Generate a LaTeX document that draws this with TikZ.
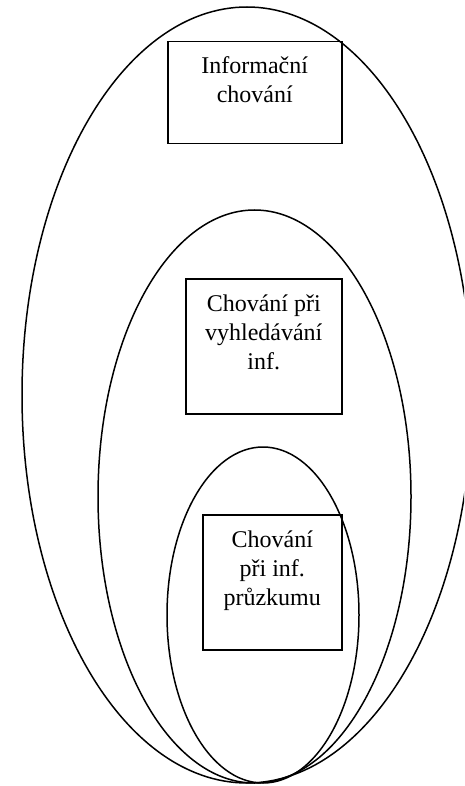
\documentclass[tikz,border=0pt]{standalone}
\usepackage{fontspec}
\setmainfont{Liberation Serif}
\begin{document}
\begin{tikzpicture}[x=1pt,y=-1pt,line width=1.5pt,
	box/.style={draw,anchor=north west,inner sep=0pt},
	txt/.style={anchor=north,align=center,inner sep=0pt,font=\fontsize{24}{29}\selectfont}]
\useasboundingbox (0,0) rectangle (464,786);
\clip (0,0) rectangle (464,786);
\foreach \cx/\cy/\rx/\ry in {247/395/225/388, 254.5/496.5/156.5/286.5, 263/615/96/168}
{
	\draw (\cx,\cy) ellipse [x radius=\rx, y radius=\ry];
}

\node[box,minimum width=174pt,minimum height=102pt] (info) at (167,41) {};
\node[txt] at ([yshift=-15pt]info.north) {Informační\\chování};

\node[box,minimum width=156pt,minimum height=135pt] (hled) at (185,278) {};
\node[txt] at ([yshift=-16pt]hled.north) {Chování při\\vyhledávání\\inf.};

\node[box,minimum width=139pt,minimum height=135pt] (pruz) at (202,514) {};
\node[txt] at ([yshift=-16pt]pruz.north) {Chování\\při inf.\\průzkumu};

\end{tikzpicture}
\end{document}
